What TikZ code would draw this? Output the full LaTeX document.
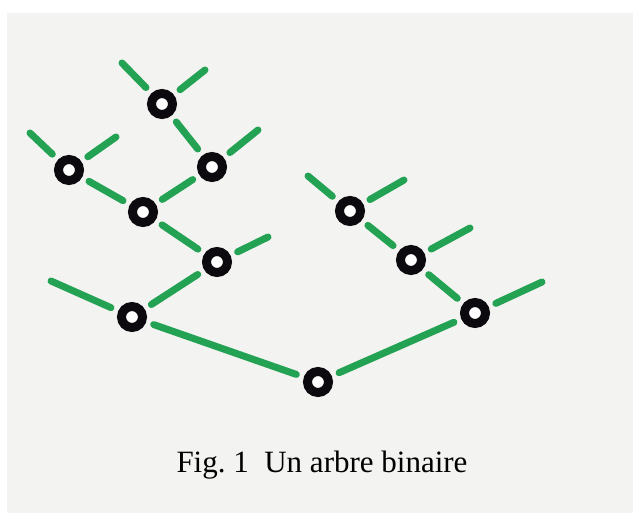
\documentclass[tikz,border=0pt]{standalone}
\usepackage{fontspec}
\setmainfont{Liberation Serif}
\definecolor{paper}{RGB}{243,243,241}
\definecolor{twigc}{RGB}{34,162,82}
\definecolor{ringc}{RGB}{12,10,14}
\tikzset{
  ring/.style={circle, draw=ringc, line width=9pt, minimum size=21pt,
               inner sep=0pt, fill=white},
  twig/.style={draw=twigc, line width=7pt, line cap=round, shorten <=8pt},
  inner twig/.style={twig, shorten >=8pt},
}
\begin{document}
\begin{tikzpicture}[x=1pt, y=-1pt]
  % page and paper sheet
  \useasboundingbox (0,0) rectangle (633,513);
  \fill[white] (0,0) rectangle (633,513);
  \fill[paper] (7,13) rectangle (640,520);

  % rings (tree nodes)
  \node[ring] (r) at (318,382) {};
  \node[ring] (a) at (132,317) {};
  \node[ring] (b) at (475,313) {};
  \node[ring] (c) at (217,262) {};
  \node[ring] (d) at (143,212) {};
  \node[ring] (e) at (69,170) {};
  \node[ring] (f) at (212,167) {};
  \node[ring] (g) at (162,104) {};
  \node[ring] (h) at (411,260) {};
  \node[ring] (i) at (350,211) {};

  % free ends of the twigs
  \coordinate (aL) at (51,281);
  \coordinate (cR) at (268,237);
  \coordinate (eL) at (30,133);
  \coordinate (eR) at (116,137);
  \coordinate (fR) at (258,130);
  \coordinate (gL) at (122,63);
  \coordinate (gR) at (205,70);
  \coordinate (iL) at (308,176);
  \coordinate (iR) at (404,180);
  \coordinate (hR) at (470,228);
  \coordinate (bR) at (542,282);

  % branches between rings
  \foreach \u/\v in {r/a, r/b, a/c, c/d, d/e, d/f, f/g, b/h, h/i}
    \draw[inner twig] (\u) -- (\v);

  % leaf twigs
  \foreach \u/\v in {a/aL, c/cR, e/eL, e/eR, f/fR, g/gL, g/gR, i/iL, i/iR, h/hR, b/bR}
    \draw[twig] (\u) -- (\v);

  % caption
  \node[anchor=base, font=\fontsize{31}{36}\selectfont, inner sep=0pt] (cap)
    at (322,473) {Fig.~1\ \ Un arbre binaire};
\end{tikzpicture}
\end{document}
